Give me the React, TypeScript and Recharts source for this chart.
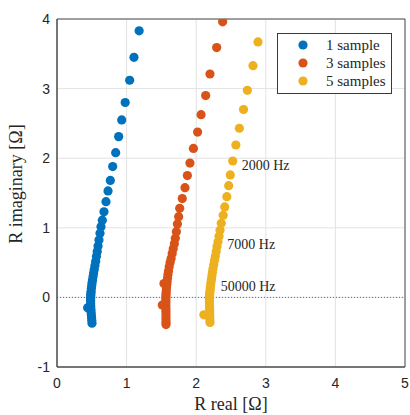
import React from "react";
import {
  ScatterChart,
  Scatter,
  XAxis,
  YAxis,
  CartesianGrid,
  ReferenceLine,
  ReferenceArea,
  Legend,
} from "recharts";

// 1 sample (blue)
const oneReal = [
  1.18, 1.106, 1.044, 0.98, 0.93, 0.886, 0.843, 0.8, 0.766, 0.733, 0.704, 0.675, 0.651, 0.632,
  0.618, 0.603, 0.59, 0.578, 0.567, 0.556, 0.545, 0.535, 0.526, 0.518, 0.51, 0.504, 0.499, 0.494,
  0.49, 0.487, 0.485, 0.484, 0.483, 0.483, 0.484, 0.44, 0.485, 0.487, 0.49, 0.493, 0.497, 0.5, 0.503,
];
const oneImag = [
  3.83, 3.45, 3.12, 2.8, 2.55, 2.31, 2.08, 1.88, 1.68, 1.53, 1.375, 1.23, 1.11, 1.016,
  0.92, 0.825, 0.74, 0.66, 0.59, 0.52, 0.46, 0.4, 0.35, 0.3, 0.25, 0.21, 0.17, 0.13,
  0.09, 0.06, 0.03, 0.0, -0.03, -0.06, -0.09, -0.15, -0.13, -0.17, -0.21, -0.25, -0.29, -0.33, -0.37,
];

// 3 samples (red)
const threeReal = [
  2.38, 2.294, 2.198, 2.136, 2.07, 2.02, 1.96, 1.91, 1.873, 1.839, 1.8, 1.763, 1.748, 1.73, 1.715,
  1.7, 1.686, 1.67, 1.655, 1.64, 1.625, 1.612, 1.602, 1.594, 1.588, 1.582, 1.578, 1.537, 1.574,
  1.571, 1.568, 1.566, 1.565, 1.564, 1.564, 1.564, 1.513, 1.564, 1.565, 1.565, 1.566, 1.566, 1.566,
  1.566, 1.566,
];
const threeImag = [
  3.96, 3.59, 3.21, 2.9, 2.625, 2.376, 2.14, 1.93, 1.75, 1.576, 1.42, 1.28, 1.16, 1.055, 0.945,
  0.85, 0.77, 0.7, 0.63, 0.56, 0.5, 0.44, 0.38, 0.33, 0.28, 0.23, 0.19, 0.2, 0.15,
  0.11, 0.07, 0.04, 0.01, -0.02, -0.05, -0.08, -0.11, -0.12, -0.16, -0.2, -0.24, -0.28, -0.32,
  -0.36, -0.39,
];

// 5 samples (yellow)
const fiveReal = [
  2.888, 2.816, 2.735, 2.68, 2.62, 2.57, 2.525, 2.49, 2.467, 2.44, 2.41, 2.388, 2.36, 2.342,
  2.328, 2.313, 2.299, 2.287, 2.275, 2.263, 2.252, 2.241, 2.233, 2.226, 2.219, 2.213, 2.208, 2.203,
  2.199, 2.196, 2.193, 2.191, 2.19, 2.19, 2.19, 2.191, 2.192, 2.193, 2.11, 2.194, 2.195, 2.196, 2.198,
];
const fiveImag = [
  3.67, 3.33, 2.975, 2.7, 2.43, 2.19, 1.96, 1.76, 1.605, 1.447, 1.3, 1.18, 1.065, 0.965,
  0.88, 0.8, 0.73, 0.66, 0.59, 0.53, 0.47, 0.41, 0.36, 0.31, 0.26, 0.22, 0.18, 0.14,
  0.1, 0.07, 0.04, 0.01, -0.02, -0.05, -0.08, -0.12, -0.16, -0.2, -0.25, -0.24, -0.28, -0.32, -0.36,
];

const freqLabels = ["2000 Hz", "7000 Hz", "50000 Hz"];
const freqReal = [2.654, 2.447, 2.352];
const freqImag = [1.9, 0.767, 0.154];

const xTicks = [0, 1, 2, 3, 4, 5];
const yTicks = [-1, 0, 1, 2, 3, 4];

const toPoints = (re: number[], im: number[]) => re.map((x, i) => ({ x, y: im[i] }));

const SERIES = [
  { name: "1 sample", color: "#0072BD", data: toPoints(oneReal, oneImag) },
  { name: "3 samples", color: "#D95319", data: toPoints(threeReal, threeImag) },
  { name: "5 samples", color: "#EDB120", data: toPoints(fiveReal, fiveImag) },
];

const annotations = freqLabels.map((label, i) => ({ x: freqReal[i], y: freqImag[i], label }));

const serif = "'Liberation Serif', 'DejaVu Serif', serif";
const sans = "'Liberation Sans', Arial, sans-serif";

const dot = (color: string) => (props: any) =>
  <circle cx={props.cx} cy={props.cy} r={4.6} fill={color} />;

const annotationShape = (props: any) => (
  <text
    x={props.cx}
    y={props.cy}
    dominantBaseline="central"
    fontFamily={serif}
    fontSize={14}
    fill="#262626"
  >
    {props.payload.label}
  </text>
);

// y label sits a little above the axis centre, like the MATLAB original
const YLabel = ({ viewBox }: any) => {
  const x = 16;
  const y = viewBox.y + viewBox.height / 2 - 9;
  return (
    <text
      x={x}
      y={y}
      transform={`rotate(-90, ${x}, ${y})`}
      textAnchor="middle"
      dominantBaseline="central"
      fontFamily={serif}
      fontSize={18}
      fill="#262626"
    >
      R imaginary [Ω]
    </text>
  );
};

const LegendBox = ({ payload }: any) => {
  const items = (payload || []).filter((p: any) => p.value !== "annotations");
  return (
    <div
      style={{
        border: "1px solid #3a3a3a",
        background: "#fff",
        padding: "2px 0 3px 0",
        fontFamily: serif,
        fontSize: 15,
        color: "#262626",
        boxSizing: "border-box",
      }}
    >
      {items.map((p: any) => (
        <div key={p.value} style={{ display: "flex", alignItems: "center", height: 18 }}>
          <svg width={48} height={18}>
            <circle cx={25} cy={9} r={4.6} fill={p.color} />
          </svg>
          <span>{p.value}</span>
        </div>
      ))}
    </div>
  );
};

export default function App() {
  return (
    <div style={{ position: "absolute", left: 0, top: 0, width: 410, height: 415, background: "#fff" }}>
      <ScatterChart width={410} height={415} margin={{ top: 19, right: 5, bottom: 0, left: 0 }}>
        <CartesianGrid stroke="#e3e3e3" strokeWidth={1} />
        <XAxis
          type="number"
          dataKey="x"
          domain={[0, 5]}
          ticks={xTicks}
          allowDataOverflow
          height={48}
          tickLine={false}
          tickSize={0}
          tickMargin={11}
          axisLine={{ stroke: "#4d4d4d" }}
          tick={{ fontFamily: sans, fontSize: 14, fill: "#262626" }}
          label={{
            value: "R real [Ω]",
            position: "insideBottom",
            offset: 5,
            style: { fontFamily: serif, fontSize: 18, fill: "#262626" },
          }}
        />
        <YAxis
          type="number"
          dataKey="y"
          domain={[-1, 4]}
          ticks={yTicks}
          allowDataOverflow
          width={57}
          tickLine={false}
          tickSize={0}
          tickMargin={7}
          axisLine={{ stroke: "#4d4d4d" }}
          tick={{ fontFamily: sans, fontSize: 14, fill: "#262626" }}
          label={<YLabel />}
        />
        <ReferenceArea x1={0} x2={5} y1={-1} y2={4} fill="none" stroke="#4d4d4d" strokeWidth={1} />
        <ReferenceLine y={0} stroke="#5c5ce6" strokeDasharray="1 2" strokeWidth={1} />
        {SERIES.map((s) => (
          <Scatter
            key={s.name}
            name={s.name}
            data={s.data}
            fill={s.color}
            shape={dot(s.color)}
            isAnimationActive={false}
          />
        ))}
        <Scatter
          name="annotations"
          data={annotations}
          shape={annotationShape}
          legendType="none"
          isAnimationActive={false}
        />
        <Legend
          content={LegendBox}
          layout="vertical"
          align="center"
          verticalAlign="middle"
          wrapperStyle={{ position: "absolute", left: 277, top: 33, width: 115 }}
        />
      </ScatterChart>
    </div>
  );
}
